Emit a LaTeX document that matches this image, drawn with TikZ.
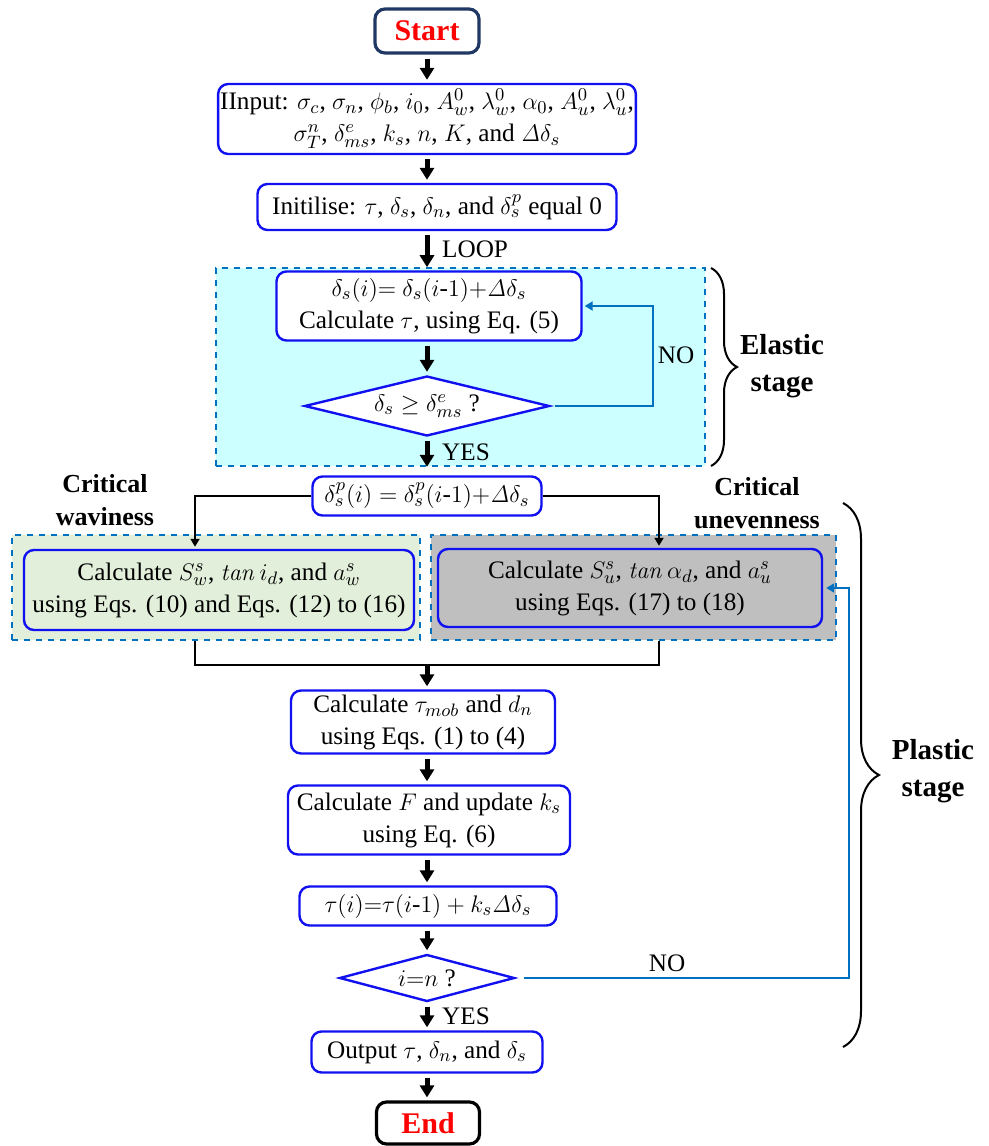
\documentclass[tikz,border=0pt]{standalone}
\usepackage[no-math]{fontspec}
\setmainfont{Liberation Serif}
\usepackage{amsmath}
\usetikzlibrary{shapes.geometric,arrows.meta,decorations.pathreplacing}
\definecolor{boxblue}{HTML}{1010F0}
\definecolor{navy}{HTML}{1F3864}
\definecolor{loopblue}{HTML}{0070C0}
\definecolor{elcyan}{HTML}{CCFFFF}
\definecolor{wgreen}{HTML}{E2EFDA}
\definecolor{ugrey}{HTML}{BFBFBF}
\newcommand{\hy}{\text{-}}
\tikzset{
  proc/.style={draw=boxblue, line width=1.2pt, rounded corners=5pt, fill=white, align=center, inner sep=1pt},
  term/.style={draw, line width=1.6pt, rounded corners=5pt, fill=white, text=red, font=\fontsize{15}{18}\selectfont\bfseries, minimum width=52pt, minimum height=22pt},
  decide/.style={draw=boxblue, line width=1.2pt, diamond, fill=white, inner sep=0pt},
  zone/.style={draw=loopblue, dashed, line width=0.8pt, inner sep=0pt},
  flow/.style={line width=2.5pt, -{Triangle[width=7pt,length=6pt]}, shorten <=2pt, shorten >=1.5pt},
  conn/.style={line width=0.9pt},
  noline/.style={draw=loopblue, line width=1pt, -{Triangle[width=4.5pt,length=4pt]}},
  stagelbl/.style={font=\fontsize{14.5}{18.5}\selectfont\bfseries, align=center},
  critlbl/.style={font=\fontsize{13}{16.5}\selectfont\bfseries, align=center}
}

\begin{document}
\begin{tikzpicture}[x=0.5pt, y=-0.5pt, font=\fontsize{12.6}{16}\selectfont]
  \useasboundingbox (0,0) rectangle (989,1146);
  \coordinate (ax) at (427,0);

  \node[term, draw=navy] (start) at (427,31) {Start};
  \node[proc, minimum width=204pt, minimum height=35pt] (input) at (427,119)
    {IInput: $\sigma_c$, $\sigma_n$, $\phi_b$, $i_0$, $A_w^0$, $\lambda_w^0$, $\alpha_0$, $A_u^0$, $\lambda_u^0$,\\
     $\sigma_T^n$, $\delta_{ms}^e$, $k_s$, $n$, $K$, and $\mathit{\Delta}\delta_s$};
  \node[proc, minimum width=179.5pt, minimum height=23pt] (init) at (437,207)
    {Initilise: $\tau$, $\delta_s$, $\delta_n$, and $\delta_s^p$ equal 0};

  % elastic stage
  \node[zone, fill=elcyan, minimum width=244.5pt, minimum height=99pt] (elzone) at (460.5,367) {};
  \node[proc, minimum width=152.5pt, minimum height=34.5pt] (upd) at (429,306)
    {$\delta_s(i){=}\ \delta_s(i\hy1){+}\mathit{\Delta}\delta_s$\\ Calculate $\tau$,\ using Eq. (5)};
  \node[decide, aspect=4, minimum width=122.5pt, minimum height=30pt] (chk) at (427,406)
    {$\delta_s\geq\delta_{ms}^e$ ?};
  \coordinate (elret) at (653,350);

  \node[proc, minimum width=114.5pt, minimum height=19.5pt] (dp) at (427,496)
    {$\delta_s^p(i)=\delta_s^p(i\hy1){+}\mathit{\Delta}\delta_s$};

  % critical waviness / unevenness
  \node[zone, fill=wgreen, minimum width=204pt, minimum height=52.5pt] (wzone) at (216,587.5) {};
  \node[proc, fill=wgreen, minimum width=195pt, minimum height=40pt] (wavy) at (219,590)
    {Calculate $S_w^s$, $\mathit{tan}\,i_d$, and $a_w^s$\\ using Eqs. (10) and Eqs. (12) to (16)};
  \node[zone, fill=ugrey, minimum width=202.5pt, minimum height=52.5pt] (gzone) at (633.5,587.5) {};
  \node[proc, fill=ugrey, minimum width=192pt, minimum height=39pt] (unev) at (630,588)
    {Calculate $S_u^s$, $\mathit{tan}\,\alpha_d$, and $a_u^s$\\ using Eqs. (17) to (18)};
  \coordinate (lx) at (195,0);
  \coordinate (rx) at (659,0);
  \coordinate (mg) at (427,665);

  \node[proc, minimum width=132pt, minimum height=31.5pt] (mob) at (423,722)
    {Calculate $\tau_{mob}$ and $d_n$\\ using Eqs. (1) to (4)};
  \node[proc, minimum width=141pt, minimum height=34.5pt] (fupd) at (429,820)
    {Calculate $F$ and update $k_s$\\ using Eq. (6)};
  \node[proc, minimum width=128.5pt, minimum height=19.5pt] (tau) at (428,906)
    {$\tau(i){=}\tau(i\hy1)+k_s\mathit{\Delta}\delta_s$};
  \node[decide, aspect=3.7, minimum width=87.5pt, minimum height=23.5pt] (dec) at (427,978)
    {$i{=}n$ ?};
  \coordinate (plret) at (849,800);
  \node[proc, minimum width=115.5pt, minimum height=20.5pt] (out) at (427,1052)
    {Output $\tau$, $\delta_n$, and $\delta_s$};
  \node[term, minimum width=51.5pt, minimum height=21pt] (stop) at (428,1123) {End};

  % main flow
  \draw[flow] (ax |- start.south) -- (ax |- input.north);
  \draw[flow] (ax |- input.south) -- (ax |- init.north);
  \draw[flow, shorten >=0pt] (ax |- init.south) -- (ax |- elzone.north)
    node[midway, right=3pt] {LOOP};
  \draw[flow] (ax |- upd.south) -- (chk.north);
  \draw[flow, shorten >=0pt] (chk.south) -- (ax |- elzone.south)
    node[midway, right=3pt] {YES};
  \draw[noline, shorten <=2pt, shorten >=1pt] (chk.east) -| (elret) |- (upd.east);
  \node (elno) at (676,355) {NO};

  \draw[conn, -{Triangle[width=4.5pt,length=4pt]}, shorten >=1pt] (dp.west) -| (lx |- wavy.north);
  \draw[conn, -{Triangle[width=4.5pt,length=4pt]}, shorten >=1pt] (dp.east) -| (rx |- unev.north);
  \draw[conn] (lx |- wzone.south) |- (mg) -| (rx |- gzone.south);
  \draw[flow, shorten <=0pt] (mg) -- (ax |- mob.north);

  \draw[flow] (ax |- mob.south) -- (ax |- fupd.north);
  \draw[flow] (ax |- fupd.south) -- (ax |- tau.north);
  \draw[flow] (ax |- tau.south) -- (dec.north);
  \draw[flow] (dec.south) -- (out.north)
    node[midway, right=3pt] {YES};
  \draw[flow] (out.south) -- (ax |- stop.north);
  \draw[noline, shorten <=4pt, shorten >=1.5pt] (dec.east) -| (plret) |- (unev.east);
  \node (plno) at (667,963) {NO};

  % stage braces
  \draw[line width=1pt, decorate, decoration={brace, amplitude=13pt}] (711,268) -- (711,466);
  \node[stagelbl] (elastic) at (782,366) {Elastic\\ stage};
  \draw[line width=1pt, decorate, decoration={brace, amplitude=18pt}] (843,503) -- (843,1047);
  \node[stagelbl] (plastic) at (933,771) {Plastic\\ stage};
  \node[critlbl] (critw) at (105,500) {Critical\\ waviness};
  \node[critlbl] (critu) at (757,503) {Critical\\ unevenness};
\end{tikzpicture}
\end{document}
